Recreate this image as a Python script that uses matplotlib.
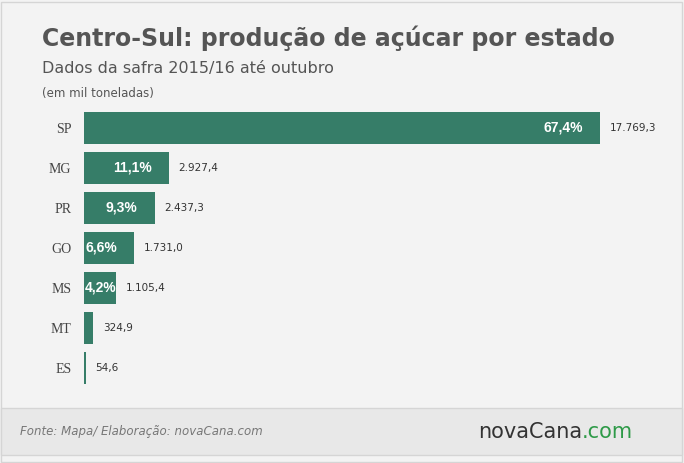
import matplotlib.pyplot as plt
from matplotlib.patches import Rectangle

estados = ['SP', 'MG', 'PR', 'GO', 'MS', 'MT', 'ES']
producao = [17769.3, 2927.4, 2437.3, 1731.0, 1105.4, 324.9, 54.6]
percentuais = ['67,4%', '11,1%', '9,3%', '6,6%', '4,2%', '', '']

def fmt(v):
    s = f'{v:,.1f}'
    return s.replace(',', 'X').replace('.', ',').replace('X', '.')

W, H = 684, 463
fig = plt.figure(figsize=(W / 100, H / 100), dpi=100)
fig.patch.set_facecolor('#f3f3f3')

# outer border and footer band
fig.add_artist(Rectangle((1 / W, 1 / H), (W - 3) / W, (H - 3) / H, transform=fig.transFigure,
                         facecolor='none', edgecolor='#d5d5d5', lw=1))
fig.add_artist(Rectangle((1 / W, 1 - 455 / H), (W - 3) / W, 47 / H, transform=fig.transFigure,
                         facecolor='#e8e8e8', edgecolor='#d5d5d5', lw=1))

green = '#367d68'
ax = fig.add_axes([84 / W, 1 - 388 / H, 576 / W, 280 / H])
ax.set_facecolor('none')
y = list(range(len(estados)))
ax.barh(y, producao, height=0.82, color=green)
ax.set_ylim(len(estados) - 0.5, -0.5)
ax.set_xlim(0, 17769.3 * 576 / 516)
for i, (v, p) in enumerate(zip(producao, percentuais)):
    ax.text(v + 330, i, fmt(v), va='center', ha='left', fontsize=7.5, color='#333333')
    if p:
        if v > 1500:
            ax.text(v - 600, i, p, va='center', ha='right', fontsize=10, color='white',
                    fontweight='bold', family='Liberation Sans')
        else:
            ax.text(20, i, p, va='center', ha='left', fontsize=10, color='white',
                    fontweight='bold', family='Liberation Sans')
ax.set_yticks(y)
ax.set_yticklabels(estados, fontsize=10, color='#444444', family='Liberation Serif')
ax.tick_params(axis='y', length=0, pad=9)
ax.set_xticks([])
for s in ax.spines.values():
    s.set_visible(False)

fig.text(42 / W, 1 - 38 / H, 'Centro-Sul: produção de açúcar por estado', fontsize=17,
         fontweight='bold', color='#555555', va='center')
fig.text(42 / W, 1 - 68 / H, 'Dados da safra 2015/16 até outubro', fontsize=11.5,
         color='#555555', va='center')
fig.text(42 / W, 1 - 93 / H, '(em mil toneladas)', fontsize=8.5, color='#555555', va='center')
fig.text(20 / W, 1 - 432 / H, 'Fonte: Mapa/ Elaboração: novaCana.com', fontsize=8.5,
         style='italic', color='#777777', va='center')
logo = fig.text(478 / W, 1 - 432 / H, 'novaCana', fontsize=15, color='#333333', va='center')
fig.canvas.draw()
ext = logo.get_window_extent()
fig.text(ext.x1 / W, 1 - 432 / H, '.com', fontsize=15, color='#2e9a48', va='center')

fig.savefig('out.png', dpi=100, facecolor=fig.get_facecolor())
